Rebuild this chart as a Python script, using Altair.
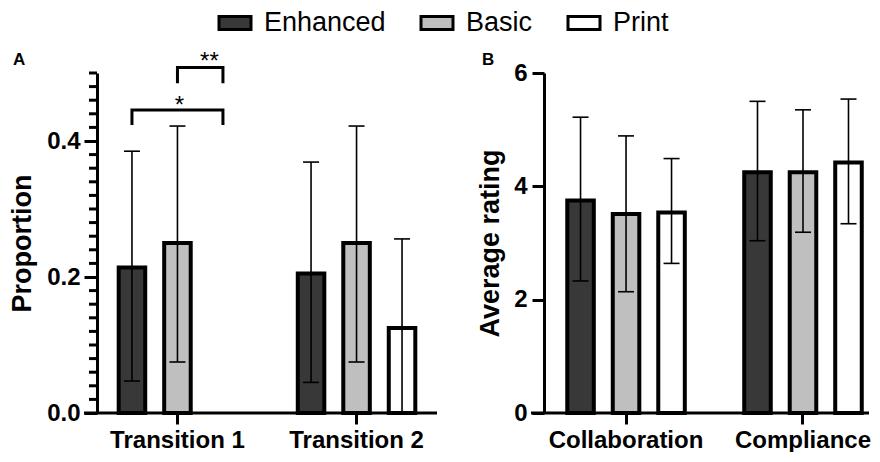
import altair as alt
import pandas as pd

FONT = "Liberation Sans"

groups = ["Enhanced", "Basic", "Print"]
colors = ["#383838", "#bfbfbf", "#ffffff"]

# Panel A
a_cats = ["Transition 1", "Transition 2"]
a_cat = ["Transition 1", "Transition 1", "Transition 2", "Transition 2", "Transition 2"]
a_grp = ["Enhanced", "Basic", "Enhanced", "Basic", "Print"]
a_mean = [0.214, 0.250, 0.205, 0.250, 0.125]
a_low = [0.047, 0.075, 0.045, 0.075, 0.000]
a_high = [0.385, 0.422, 0.369, 0.422, 0.256]
a_major = [0.0, 0.2, 0.4]
a_minor = [0.02, 0.04, 0.06, 0.08, 0.10, 0.12, 0.14, 0.16, 0.18,
           0.22, 0.24, 0.26, 0.28, 0.30, 0.32, 0.34, 0.36, 0.38,
           0.42, 0.44, 0.46, 0.48, 0.50]

# significance brackets (Transition 1)
br_id = ["s1", "s1", "s1", "s1", "s2", "s2", "s2", "s2"]
br_grp = ["Enhanced", "Enhanced", "Print", "Print", "Basic", "Basic", "Print", "Print"]
br_y = [0.4235, 0.4456, 0.4456, 0.4235, 0.485, 0.508, 0.508, 0.485]
br_ord = [0, 1, 2, 3, 0, 1, 2, 3]
star_text = ["*", "**"]
star_y = [0.441, 0.506]

# Panel B
b_cats = ["Collaboration", "Compliance"]
b_cat = ["Collaboration"] * 3 + ["Compliance"] * 3
b_grp = groups * 2
b_mean = [3.75, 3.51, 3.54, 4.25, 4.25, 4.42]
b_low = [2.33, 2.14, 2.64, 3.04, 3.19, 3.34]
b_high = [5.22, 4.89, 4.49, 5.50, 5.35, 5.54]
b_major = [0, 2, 4, 6]

panel_labels = ["A", "B"]

W_A, W_B, H = 340, 325, 340

dfA = pd.DataFrame({"cat": a_cat, "grp": a_grp, "mean": a_mean, "low": a_low, "high": a_high})
dfB = pd.DataFrame({"cat": b_cat, "grp": b_grp, "mean": b_mean, "low": b_low, "high": b_high})
dfBr = pd.DataFrame({"id": br_id, "grp": br_grp, "y": br_y, "ord": br_ord,
                     "cat": ["Transition 1"] * len(br_id)})

legend = alt.Legend(
    orient="none", legendX=123, legendY=-65, direction="horizontal", title=None,
    symbolType="M-1.185,-0.48H1.185V0.48H-1.185Z", symbolSize=729, symbolStrokeColor="black",
    symbolStrokeWidth=3, symbolOpacity=1, labelFontSize=27, labelFont=FONT,
    labelColor="black", labelOffset=14, columnPadding=29, padding=0,
)
color = alt.Color("grp:N", scale=alt.Scale(domain=groups, range=colors), legend=legend)

xoff = alt.XOffset("grp:N", scale=alt.Scale(domain=groups, paddingInner=0.4167, paddingOuter=0.2917))

axisX = alt.Axis(domain=False, ticks=True, tickSize=11, tickWidth=3, tickColor="black",
                 labelFontSize=24, labelFontWeight="bold", labelColor="black", labelFont=FONT,
                 labelPadding=4, labelAngle=0, title=None, grid=False)


def make_panel(df, xscale, ydomain, yaxis, width, label, label_x, extra_layers):
    X = alt.X("cat:N", scale=xscale, axis=axisX, title=None)
    ysc = alt.Scale(domain=ydomain, nice=False, zero=True)

    def Y(f):
        return alt.Y(f, type="quantitative", scale=ysc, axis=yaxis)

    bars = alt.Chart(df).mark_bar(stroke="black", strokeWidth=4).encode(
        x=X, xOffset=xoff, y=Y("mean"), color=color)
    err = alt.Chart(df).mark_rule(color="black", strokeWidth=1.6).encode(
        x=X, xOffset=xoff, y=Y("low"), y2="high")
    cap_lo = alt.Chart(df).mark_tick(color="black", size=16, thickness=1.6, opacity=1).encode(
        x=X, xOffset=xoff, y=Y("low"))
    cap_hi = alt.Chart(df).mark_tick(color="black", size=16, thickness=1.6, opacity=1).encode(
        x=X, xOffset=xoff, y=Y("high"))
    base = alt.Chart(pd.DataFrame({"v": [0]})).mark_rule(color="black", strokeWidth=3).encode(
        x=alt.value(-13), x2=alt.value(width), y=alt.value(H))
    lab = alt.Chart(pd.DataFrame({"t": [label]})).mark_text(
        fontSize=17, fontWeight="bold", font=FONT, color="black", align="left", baseline="middle"
    ).encode(text="t:N", x=alt.value(label_x), y=alt.value(-13))
    layers = [bars, err, cap_lo, cap_hi, base, lab]
    layers += [f(X, Y) for f in extra_layers]
    return alt.layer(*layers).properties(width=width, height=H)


yaxisA = alt.Axis(values=a_major, format=".1f", tickSize=13, tickWidth=3, tickColor="black",
                  domainWidth=3, domainColor="black", labelFontSize=24, labelFontWeight="bold",
                  labelFont=FONT, labelColor="black", labelPadding=4, title="Proportion",
                  titleFontSize=27, titleFontWeight="bold", titleFont=FONT, titleColor="black",
                  titlePadding=10, grid=False)
yaxisB = alt.Axis(values=b_major, format="d", tickSize=12, tickWidth=3, tickColor="black",
                  domainWidth=3, domainColor="black", labelFontSize=24, labelFontWeight="bold",
                  labelFont=FONT, labelColor="black", labelPadding=5, title="Average rating",
                  titleFontSize=27, titleFontWeight="bold", titleFont=FONT, titleColor="black",
                  titlePadding=9, grid=False)


def minor_ticks(X, Y):
    return alt.Chart(pd.DataFrame({"v": a_minor})).mark_rule(color="black", strokeWidth=3).encode(
        y=Y("v"), x=alt.value(-8), x2=alt.value(0))


def brackets(X, Y):
    return alt.Chart(dfBr).mark_line(color="black", strokeWidth=3, strokeJoin="miter",
                                      strokeCap="butt").encode(
        x=X, xOffset=xoff, y=Y("y"), detail="id:N", order="ord:Q")


def star_layer(i, dx):
    def f(X, Y):
        d = pd.DataFrame({"cat": ["Transition 1"], "grp": ["Basic"], "y": [star_y[i]],
                          "t": [star_text[i]]})
        return alt.Chart(d).mark_text(fontSize=24, font=FONT, color="black", dx=dx,
                                      baseline="alphabetic").encode(
            x=X, xOffset=xoff, y=Y("y"), text="t:N")
    return f


xscaleA = alt.Scale(domain=a_cats, paddingInner=0.1955, paddingOuter=0.047)
xscaleB = alt.Scale(domain=b_cats, paddingInner=0.186, paddingOuter=0, range=[10, 331])

panelA = make_panel(dfA, xscaleA, [0, 0.5], yaxisA, W_A, panel_labels[0], -84,
                    [minor_ticks, brackets, star_layer(0, 2), star_layer(1, 32)])
panelB = make_panel(dfB, xscaleB, [0, 6], yaxisB, W_B, panel_labels[1], -62, [])

chart = alt.hconcat(panelA, panelB, spacing=107, bounds="flush").configure(
    font=FONT
).configure_view(stroke=None).properties(
    padding={"left": 0, "top": 0, "right": 0, "bottom": 0}
)

chart.save("out.html", embed_options={"renderer": "svg", "actions": False})
